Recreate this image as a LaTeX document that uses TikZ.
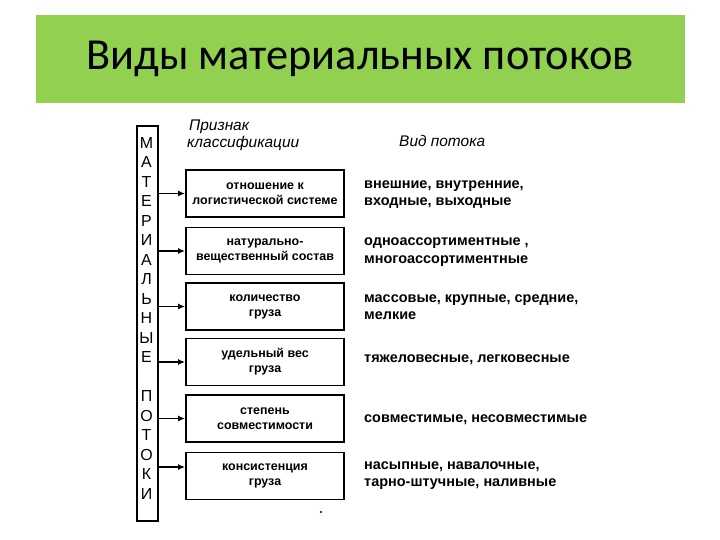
\documentclass[tikz,border=0pt]{standalone}
\usepackage{fontspec}
\setmainfont{Liberation Sans}
\newfontfamily\titlefont{Carlito}
\usetikzlibrary{arrows.meta}
\definecolor{bannergreen}{HTML}{92D050}
\begin{document}
\begin{tikzpicture}[x=1bp,y=-1bp,
  critbox/.style={draw,line width=1.8bp,minimum width=158bp,minimum height=47bp,align=center,inner sep=0pt,font=\bfseries\fontsize{12.5}{15}\selectfont},
  kindtext/.style={anchor=west,align=left,inner sep=0pt,font=\bfseries\fontsize{14.5}{17.5}\selectfont},
  headtext/.style={anchor=base west,inner sep=0pt,font=\itshape\fontsize{15.5}{18}\selectfont},
  vletter/.style={inner sep=0pt,font=\fontsize{16}{18}\selectfont},
  link/.style={line width=1.5bp,-{Latex[length=7bp,width=6bp]}}]
\useasboundingbox (0,0) rectangle (720,540);
\fill[white] (0,0) rectangle (720,540);
\node[fill=bannergreen,minimum width=649bp,minimum height=88bp,inner sep=0pt,anchor=north west] (banner) at (36,15) {};
\node[font=\titlefont\fontsize{44.5}{50}\selectfont,inner sep=0pt] (title) at (360,59) {Виды материальных потоков};
% vertical box
\node[draw,line width=1.8bp,minimum width=21bp,minimum height=395bp,inner sep=0pt,anchor=north west] (vbox) at (136,125) {};
\foreach \l [count=\i] in {М,А,Т,Е,Р,И,А,Л,Ь,Н,Ы,Е}
  \node[vletter] (va\i) at (146.5,{143+(\i-1)*19.5}) {\l};
\foreach \l [count=\i] in {П,О,Т,О,К,И}
  \node[vletter] (vb\i) at (146.5,{143+(\i+12)*19.5}) {\l};
% headers
\node[headtext] (h1) at (189,131) {Признак};
\node[headtext] (h2) at (187,148) {классификации};
\node[headtext] (h3) at (399,147) {Вид потока};
% criteria boxes
\node[critbox] (c1) at (265,193.5) {отношение к\\логистической системе};
\node[critbox] (c2) at (265,251) {натурально-\\вещественный состав};
\node[critbox] (c3) at (265,306.5) {количество\\груза};
\node[critbox] (c4) at (265,362) {удельный вес\\груза};
\node[critbox] (c5) at (265,418.5) {степень\\совместимости};
\node[critbox] (c6) at (265,476) {консистенция\\груза};
% arrows
\foreach \i in {1,...,5}
  \draw[link] (vbox.east |- c\i.west) -- (c\i.west);
\coordinate (c6in) at ([yshift=9bp]c6.west);
\draw[link] (vbox.east |- c6in) -- (c6in);
% kinds
\node[kindtext] (k1) at (364,194.5) {внешние, внутренние,\\входные, выходные};
\node[kindtext] (k2) at (364,252) {одноассортиментные ,\\многоассортиментные};
\node[kindtext] (k3) at (364,307) {массовые, крупные, средние,\\мелкие};
\node[kindtext] (k4) at (364,360) {тяжеловесные, легковесные};
\node[kindtext] (k5) at (364,420) {совместимые, несовместимые};
\node[kindtext] (k6) at (364,475.5) {насыпные, навалочные,\\тарно-штучные, наливные};
\fill (321,512) circle (1.2bp);
\end{tikzpicture}
\end{document}
